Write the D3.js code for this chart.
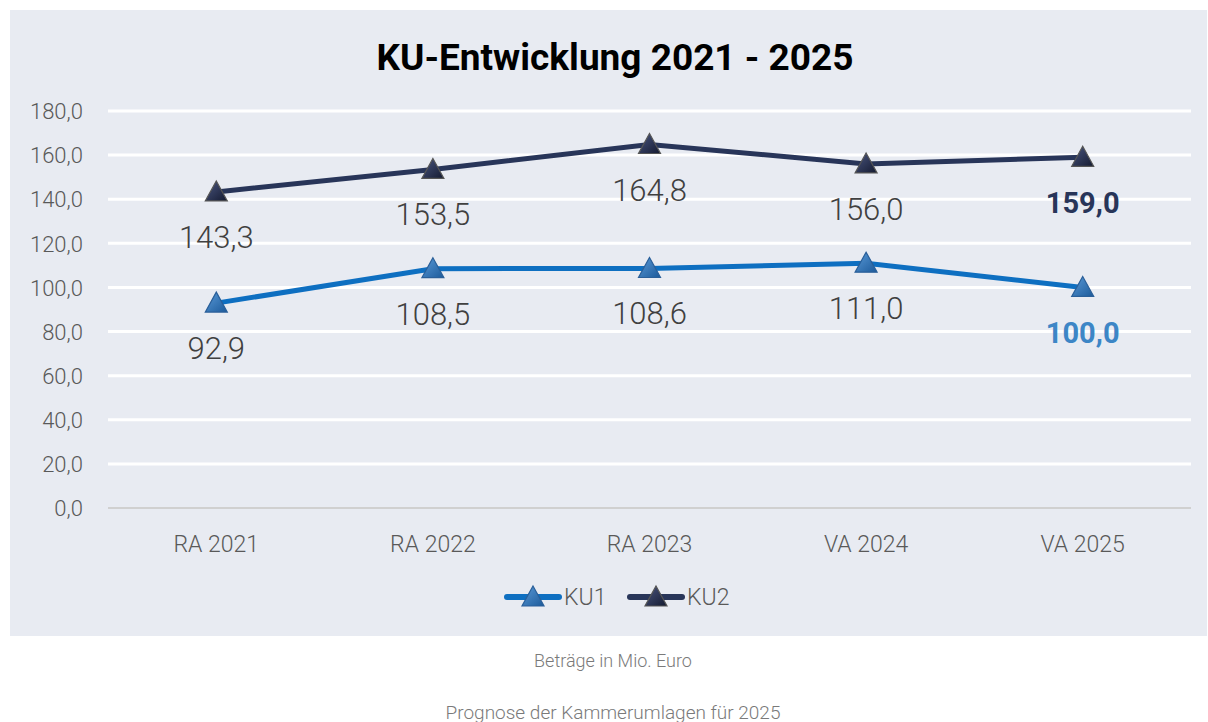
<!DOCTYPE html>
<html><head><meta charset="utf-8">
<script src="https://cdn.jsdelivr.net/npm/d3@7"></script>
<style>body{margin:0;background:#fff;} text{font-family:Roboto,"Noto Sans",sans-serif;}</style>
</head><body><svg id="c" width="1208" height="722"></svg>
<script>
const categories = ["RA 2021","RA 2022","RA 2023","VA 2024","VA 2025"];
const ku1 = [92.9,108.5,108.6,111.0,100.0];
const ku2 = [143.3,153.5,164.8,156.0,159.0];
const yTicks = [0,20,40,60,80,100,120,140,160,180];
const seriesNames = ["KU1","KU2"];
const colors = ["#0e6fc1","#283559"];
const lastLabelColors = ["#3d86c6","#283559"];

const svg = d3.select("#c");
svg.append("rect").attr("x",10).attr("y",10).attr("width",1197).attr("height",626).attr("fill","#e8ebf2");

const defs = svg.append("defs");
[["g0","#5a9ad8","#1c5a9a"],["g1","#4a5680","#141a30"]].forEach(([id,a,b])=>{
  const g=defs.append("linearGradient").attr("id",id).attr("x1","0").attr("y1","0").attr("x2","1").attr("y2","1");
  g.append("stop").attr("offset","0").attr("stop-color",a);
  g.append("stop").attr("offset","1").attr("stop-color",b);
});

const x = d3.scaleBand().domain(categories).range([108,1191]);
const y = d3.scaleLinear().domain([0,180]).range([508,111]);

svg.append("text").attr("x",615).attr("y",70).attr("text-anchor","middle")
  .attr("font-size",37).attr("font-weight","bold").attr("fill","#000").text("KU-Entwicklung 2021 - 2025");

const fmt = v => d3.format(".1f")(v).replace(".",",");

// grid
const yAxis = d3.axisLeft(y).tickValues(yTicks).tickFormat(fmt).tickSize(0).tickPadding(0);
const ga = svg.append("g").attr("transform","translate(83,0)").call(yAxis);
ga.select(".domain").remove();
ga.selectAll("text").attr("font-size",22).attr("font-weight",300).attr("fill","#595959").attr("font-family","Roboto,sans-serif").attr("dy","0.35em");

svg.append("g").selectAll("line").data(yTicks).join("line")
  .attr("x1",108).attr("x2",1191).attr("y1",d=>y(d)).attr("y2",d=>y(d))
  .attr("stroke",d=>d===0?"#d0d0d0":"#ffffff").attr("stroke-width",d=>d===0?2:3);

const xAxis = d3.axisBottom(x).tickSize(0).tickPadding(0);
const gx = svg.append("g").attr("transform","translate(0,552)").call(xAxis);
gx.select(".domain").remove();
gx.selectAll("text").attr("font-size",23).attr("font-weight",300).attr("fill","#595959").attr("font-family","Roboto,sans-serif").attr("dy","0");

const cx = c => x(c)+x.bandwidth()/2;
const tri = "M0,-11 L11,9 L-11,9 Z";

function marker(g, px, py, i){
  const m = g.append("g").attr("transform",`translate(${px},${py})`);
  m.append("path").attr("d",tri).attr("fill",`url(#g${i})`).attr("stroke",i?"#555":"#2a5f99").attr("stroke-width",1.2);
}

[ku1,ku2].forEach((data,i)=>{
  const line = d3.line().x((d,j)=>cx(categories[j])).y(d=>y(d));
  svg.append("path").datum(data).attr("d",line).attr("fill","none").attr("stroke",colors[i]).attr("stroke-width",5);
  const g = svg.append("g");
  data.forEach((d,j)=>marker(g,cx(categories[j]),y(d),i));
  svg.append("g").selectAll("text").data(data).join("text")
    .attr("x",(d,j)=>cx(categories[j])).attr("y",d=>y(d)+56)
    .attr("text-anchor","middle")
    .attr("font-size",(d,j)=>j===data.length-1?29:31)
    .attr("font-weight",(d,j)=>j===data.length-1?"bold":300)
    .attr("fill",(d,j)=>j===data.length-1?lastLabelColors[i]:"#404040")
    .text(d=>fmt(d));
});

// legend
const leg = [{x:505},{x:628}];
seriesNames.forEach((n,i)=>{
  const lx = leg[i].x;
  svg.append("line").attr("x1",lx+2).attr("x2",lx+54).attr("y1",597).attr("y2",597)
    .attr("stroke",colors[i]).attr("stroke-width",6).attr("stroke-linecap","round");
  marker(svg, lx+28, 597, i);
  svg.append("text").attr("x",lx+59).attr("y",605).attr("font-size",23).attr("font-weight",300).attr("fill","#595959").text(n);
});

svg.append("text").attr("x",613).attr("y",667).attr("text-anchor","middle").attr("font-size",18).attr("font-weight",300).attr("fill","#7a7a7a").text("Beträge in Mio. Euro");
svg.append("text").attr("x",613).attr("y",719).attr("text-anchor","middle").attr("font-size",19).attr("font-weight",300).attr("fill","#7a7a7a").text("Prognose der Kammerumlagen für 2025");
</script></body></html>
